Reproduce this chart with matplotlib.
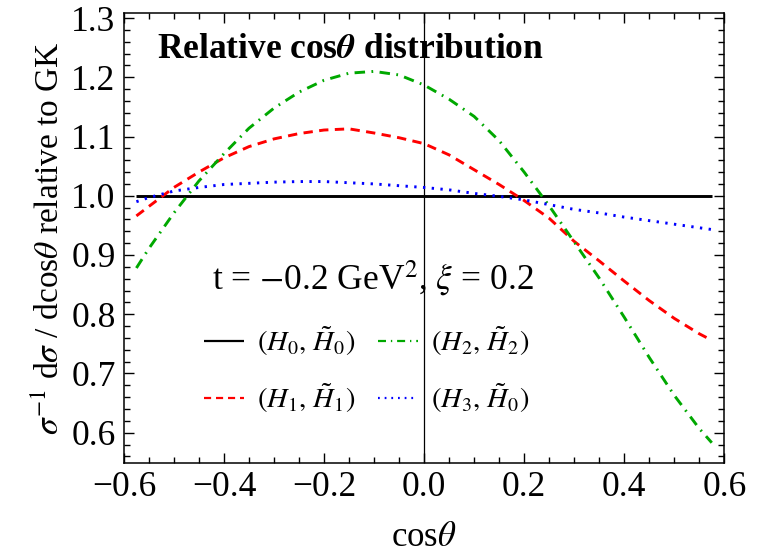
import matplotlib
matplotlib.use("Agg")
import matplotlib.pyplot as plt
from matplotlib.ticker import MultipleLocator

plt.rcParams["font.family"] = ["Liberation Serif", "DejaVu Serif"]
plt.rcParams["mathtext.fontset"] = "stix"

cos_theta = [-0.575, -0.55, -0.50, -0.45, -0.40, -0.35, -0.30, -0.25, -0.20, -0.15,
             -0.10, -0.05, 0.00, 0.05, 0.10, 0.15, 0.20, 0.25, 0.30, 0.35,
             0.40, 0.45, 0.50, 0.55, 0.575]

gk_h0 = [1.0] * len(cos_theta)
gk_h1 = [0.966, 0.982, 1.014, 1.040, 1.064, 1.083, 1.096, 1.105, 1.111, 1.113,
         1.106, 1.098, 1.088, 1.069, 1.044, 1.019, 0.992, 0.962, 0.923, 0.890,
         0.856, 0.823, 0.793, 0.767, 0.756]
gk_h2 = [0.878, 0.911, 0.971, 1.025, 1.071, 1.114, 1.148, 1.175, 1.195, 1.207,
         1.210, 1.204, 1.187, 1.163, 1.134, 1.093, 1.040, 0.983, 0.922, 0.861,
         0.795, 0.727, 0.663, 0.607, 0.583]
gk_h3 = [0.990, 0.997, 1.008, 1.014, 1.019, 1.021, 1.023, 1.024, 1.024, 1.022,
         1.020, 1.017, 1.014, 1.010, 1.004, 0.999, 0.993, 0.985, 0.977, 0.971,
         0.964, 0.958, 0.952, 0.946, 0.943]

labels = [r"$(H_0,\,\tilde{H}_0)$", r"$(H_1,\,\tilde{H}_1)$",
          r"$(H_2,\,\tilde{H}_2)$", r"$(H_3,\,\tilde{H}_0)$"]

fig = plt.figure(figsize=(7.6, 5.55), dpi=100)
ax = fig.add_axes([0.163, 0.166, 0.790, 0.811])

lw = 2.1
ax.axvline(0.0, color="black", lw=0.9, zorder=1)
l0, = ax.plot(cos_theta, gk_h0, color="black", lw=lw, solid_capstyle="butt")
l1, = ax.plot(cos_theta, gk_h1, color="#ff0000", lw=lw, dashes=(3.2, 2.2))
l2, = ax.plot(cos_theta, gk_h2, color="#00a800", lw=lw, dashes=(3.6, 2.2, 0.6, 2.2))
l3, = ax.plot(cos_theta, gk_h3, color="#0000ff", lw=lw, dashes=(0.8, 2.2))

ax.set_xlim(-0.6, 0.6)
ax.set_ylim(0.549, 1.309)
ax.xaxis.set_major_locator(MultipleLocator(0.2))
ax.xaxis.set_minor_locator(MultipleLocator(0.05))
ax.yaxis.set_major_locator(MultipleLocator(0.1))
ax.yaxis.set_minor_locator(MultipleLocator(0.02))
ax.xaxis.set_major_formatter(matplotlib.ticker.FuncFormatter(
    lambda v, p: ("\u2212" if v < -1e-9 else "") + f"{abs(v):.1f}"))
ax.tick_params(which="both", direction="in", top=True, right=True, labelsize=25.5, width=1.0)
ax.tick_params(which="major", length=7, pad=6)
ax.tick_params(which="minor", length=4)
for s in ax.spines.values():
    s.set_linewidth(1.1)

ax.set_xlabel(r"cos$\theta$", fontsize=25, labelpad=12)
ax.set_ylabel(r"$\sigma^{-1}$ d$\sigma$ / dcos$\theta$ relative to GK", fontsize=24, labelpad=4)

ax.text(0.055, 0.955, r"Relative cos$\boldsymbol{\theta}$ distribution", transform=ax.transAxes,
        fontsize=25.5, fontweight="bold", va="top", ha="left")
ax.text(0.147, 0.41, r"t = $-$0.2 GeV$^2$, $\xi$ = 0.2", transform=ax.transAxes,
        fontsize=25.5, va="center", ha="left")

leg = ax.legend([l0, l1, l2, l3], labels, ncol=2, loc="upper left",
                bbox_to_anchor=(0.115, 0.332), frameon=False, fontsize=20.5,
                handlelength=1.4, handletextpad=0.45, columnspacing=0.8,
                labelspacing=0.82, borderaxespad=0.0)
for h in leg.legend_handles:
    h.set_linewidth(1.6)

fig.savefig("out.png", dpi=100)
